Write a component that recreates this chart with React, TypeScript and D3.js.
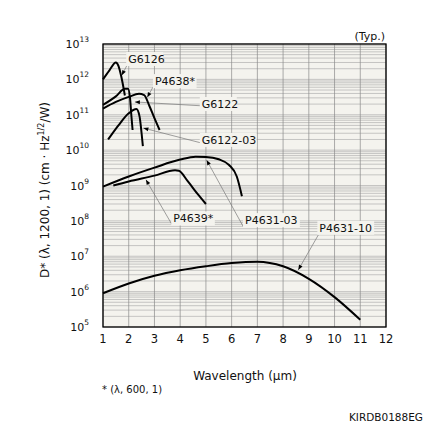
import React from 'react';
import * as d3 from 'd3';

type Pt = [number, number];

// wavelength (µm), D* (cm·Hz^1/2/W)
const g6126: Pt[] = [[1, 1e12], [1.25, 1.8e12], [1.5, 3e12], [1.6, 2.4e12], [1.7, 1.3e12], [1.85, 3.5e11]];
const g6122: Pt[] = [[1, 1.9e11], [1.5, 3.3e11], [1.85, 5.4e11], [1.97, 5.4e11], [2.05, 3e11], [2.1, 1e11], [2.15, 3.7e10]];
const p4638: Pt[] = [[1, 1.5e11], [1.5, 2.3e11], [2, 3.2e11], [2.4, 3.9e11], [2.6, 3.6e11], [2.8, 1.8e11], [3.0, 8e10], [3.2, 3.7e10]];
const g6122_03: Pt[] = [[1.2, 2e10], [1.6, 5e10], [2.0, 1.1e11], [2.3, 1.45e11], [2.42, 9e10], [2.5, 3e10], [2.55, 1.3e10]];
const p4631_03: Pt[] = [[1, 9.3e8], [2, 1.8e9], [3, 3.2e9], [4, 5.4e9], [4.6, 6.5e9], [5, 6.4e9], [5.5, 5.5e9], [5.9, 3.8e9], [6.2, 1.8e9], [6.4, 5e8]];
const p4639: Pt[] = [[1.4, 1e9], [2, 1.3e9], [3, 1.9e9], [3.8, 2.7e9], [3.95, 2.6e9], [4.3, 1.3e9], [4.7, 5.5e8], [5, 3e8]];
const p4631_10: Pt[] = [[1, 9e5], [2, 1.7e6], [3, 2.8e6], [4, 4e6], [5, 5.2e6], [6, 6.4e6], [7, 7e6], [8, 5.2e6], [9, 2.3e6], [10, 7e5], [11, 1.6e5]];

const series = [g6126, g6122, p4638, g6122_03, p4631_03, p4639, p4631_10];

const xTicks = [1, 2, 3, 4, 5, 6, 7, 8, 9, 10, 11, 12];
const yExponents = [5, 6, 7, 8, 9, 10, 11, 12, 13];

// labels: text anchor, leader start, arrow tip (data units)
const labelNames = ['G6126', 'P4638*', 'G6122', 'G6122-03', 'P4639*', 'P4631-03', 'P4631-10'];
const labelText: Pt[] = [[1.98, 2.9e12], [3.02, 6.9e11], [4.84, 1.55e11], [4.84, 1.5e10], [3.73, 9e7], [6.52, 8.1e7], [9.41, 4.9e7]];
const leaderFrom: Pt[] = [[1.92, 2.4e12], [2.94, 6e11], [4.77, 1.8e11], [4.81, 1.6e10], [3.67, 8.1e7], [6.45, 6.9e7], [9.37, 4e7]];
const leaderTip: Pt[] = [[1.73, 1.3e12], [2.72, 3.1e11], [2.24, 2.3e11], [2.57, 4.2e10], [2.67, 1.45e9], [5.03, 5.2e9], [8.59, 4.1e6]];

const FONT = 'DejaVu Sans, Verdana, sans-serif';
const BG = '#f4f3ee';

const App = () => {
  const left = 103, right = 386, top = 44, bottom = 327;
  const x = d3.scaleLinear().domain([1, 12]).range([left, right]);
  const y = d3.scaleLog().domain([1e5, 1e13]).range([bottom, top]);

  const line = d3.line<Pt>()
    .x(d => x(d[0]))
    .y(d => y(d[1]))
    .curve(d3.curveMonotoneX);

  const minor: number[] = [];
  for (let e = 5; e < 13; e++) {
    for (let m = 2; m <= 9; m++) minor.push(m * Math.pow(10, e));
  }

  return (
    <svg width={426} height={426} style={{ position: 'absolute', left: 0, top: 0, background: '#fff' }} fontFamily={FONT}>
      <rect x={left} y={top} width={right - left} height={bottom - top} fill={BG} />
      {/* grid */}
      {minor.map((v, i) => (
        <line key={'m' + i} x1={left} x2={right} y1={y(v)} y2={y(v)} stroke="#a4a4a4" strokeWidth={0.6} />
      ))}
      {yExponents.map(e => (
        <line key={'d' + e} x1={left} x2={right} y1={y(Math.pow(10, e))} y2={y(Math.pow(10, e))} stroke="#a4a4a4" strokeWidth={0.6} />
      ))}
      {xTicks.map(t => (
        <line key={'v' + t} x1={x(t)} x2={x(t)} y1={top} y2={bottom} stroke="#8a8a8a" strokeWidth={0.7} />
      ))}

      {/* leader lines */}
      {labelNames.map((n, i) => (
        <line key={'l' + i} x1={x(leaderFrom[i][0])} y1={y(leaderFrom[i][1])} x2={x(leaderTip[i][0])} y2={y(leaderTip[i][1])}
          stroke="#777" strokeWidth={0.7} />
      ))}
      {/* label boxes */}
      {labelNames.map((n, i) => {
        const w = n.length * 6.6 + 4;
        return (
          <g key={'t' + i}>
            <rect x={x(labelText[i][0]) - 2} y={y(labelText[i][1]) - 11} width={w} height={14} fill={BG} />
            <text x={x(labelText[i][0])} y={y(labelText[i][1])} fontSize={11} fill="#111">{n}</text>
          </g>
        );
      })}

      {/* curves */}
      {series.map((s, i) => (
        <path key={'s' + i} d={line(s) || ''} fill="none" stroke="#000" strokeWidth={2} strokeLinejoin="round" />
      ))}

      {/* arrowheads */}
      {labelNames.map((n, i) => {
        const x0 = x(leaderFrom[i][0]), y0 = y(leaderFrom[i][1]);
        const x1 = x(leaderTip[i][0]), y1 = y(leaderTip[i][1]);
        const a = Math.atan2(y1 - y0, x1 - x0);
        const L = 5, W = 2;
        const bx = x1 - L * Math.cos(a), by = y1 - L * Math.sin(a);
        const p = `${x1},${y1} ${bx - W * Math.sin(a)},${by + W * Math.cos(a)} ${bx + W * Math.sin(a)},${by - W * Math.cos(a)}`;
        return <polygon key={'a' + i} points={p} fill="#000" />;
      })}

      <rect x={left} y={top} width={right - left} height={bottom - top} fill="none" stroke="#000" strokeWidth={1.3} />

      {/* x tick labels */}
      {xTicks.map(t => (
        <text key={'xt' + t} x={x(t)} y={343} fontSize={11.5} textAnchor="middle" fill="#111">{t}</text>
      ))}
      {/* y tick labels */}
      {yExponents.map(e => (
        <text key={'yt' + e} x={left - 14} y={y(Math.pow(10, e)) + 4} fontSize={11} textAnchor="end" fill="#111">
          10<tspan dy={-6} fontSize={7.5}>{e}</tspan>
        </text>
      ))}

      <text x={385} y={40} fontSize={11} textAnchor="end" fill="#111">(Typ.)</text>
      <text x={245} y={380} fontSize={12} textAnchor="middle" fill="#111">Wavelength (µm)</text>
      <text x={102} y={393} fontSize={10} fill="#111">* (λ, 600, 1)</text>
      <text x={423} y={421} fontSize={10.5} textAnchor="end" fill="#111">KIRDB0188EG</text>
      <text transform="translate(49,190) rotate(-90)" fontSize={12} textAnchor="middle" fill="#111">
        D* (λ, 1200, 1) (cm · Hz<tspan dy={-5} fontSize={8}>1/2</tspan><tspan dy={5}>/W)</tspan>
      </text>
    </svg>
  );
};

export default App;
